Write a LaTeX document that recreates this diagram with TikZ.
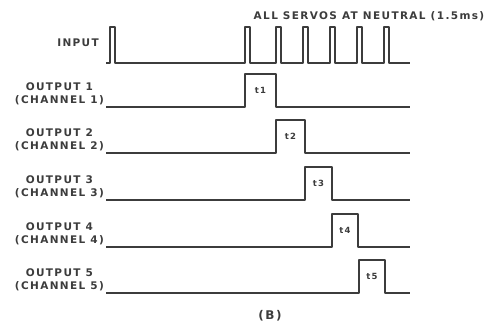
\documentclass[tikz,border=0pt]{standalone}
\usepackage{fontspec}
\newfontfamily\stencil[LetterSpace=13]{DejaVu Sans}
\usetikzlibrary{positioning}
\definecolor{cink}{HTML}{3C3C3C}
\tikzset{
  every picture/.style={line join=round},
  wave/.style={draw=cink, line width=1.3pt},
  lbl/.style={font=\stencil\bfseries\fontsize{10.5}{13}\selectfont, text=cink, align=center, inner sep=0pt},
  tag/.style={font=\stencil\bfseries\fontsize{8.5}{9}\selectfont, text=cink, inner sep=0pt},
}
\begin{document}
\begin{tikzpicture}[x=1pt, y=-1pt]
  \useasboundingbox (0,0) rectangle (497,325);
  % input train
  \node[lbl] (title) at (369,16) {ALL SERVOS AT NEUTRAL (1.5ms)};
  \node[lbl, anchor=east] (in) at (99,43) {INPUT};
  \draw[wave] (106,63) foreach \x in {110,245,276,303,330,357,384} {
    -- (\x,63) -- (\x,27) -- (\x+5,27) -- (\x+5,63) } -- (410,63);
  % outputs
  \foreach \i/\y/\a/\b in {1/107/245/276, 2/153/276/305, 3/200/305/332, 4/247/332/358, 5/293/359/385} {
    \node[lbl, anchor=east] (out\i) at (104,\y-13) {OUTPUT \i\\(CHANNEL \i)};
    \draw[wave] (106,\y) -- (\a,\y) -- (\a,\y-33) -- (\b,\y-33) -- (\b,\y) -- (410,\y);
    \node[tag] (t\i) at ({(\a+\b)/2},\y-17) {t\i};
  }
  \node[lbl, font=\stencil\bfseries\fontsize{12}{13}\selectfont] (cap) at (270,316) {(B)};
\end{tikzpicture}
\end{document}
